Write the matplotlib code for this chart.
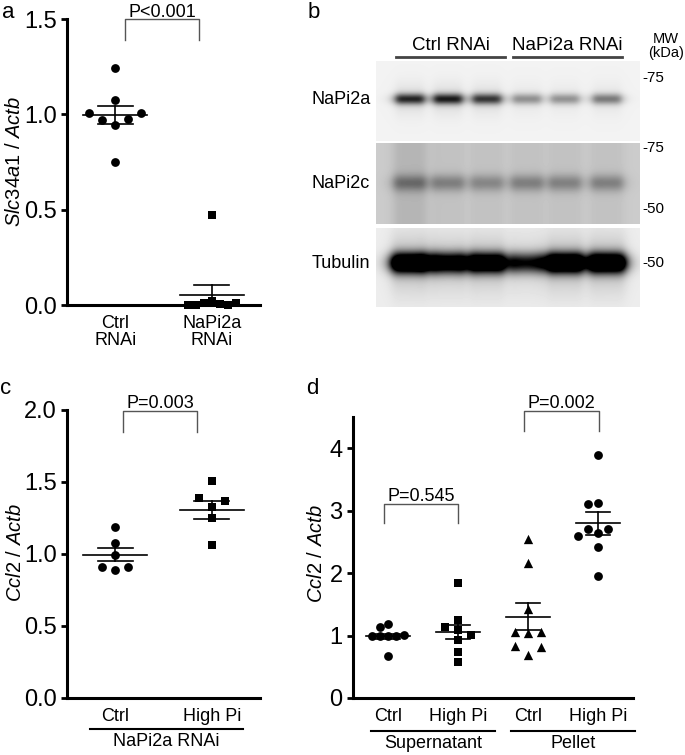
import matplotlib
matplotlib.use("Agg")
import matplotlib.pyplot as plt
import numpy as np

plt.rcParams['font.family'] = ['Liberation Sans', 'DejaVu Sans']
plt.rcParams['mathtext.fontset'] = 'custom'
plt.rcParams['mathtext.it'] = 'Liberation Sans:italic'
plt.rcParams['mathtext.rm'] = 'Liberation Sans'

W, H = 685, 755

# ---- panel a: Slc34a1 / Actb
a_labels = ["Ctrl\nRNAi", "NaPi2a\nRNAi"]
a_ctrl = [1.243, 1.073, 0.945, 0.971, 0.976, 1.006, 1.006, 0.749]
a_kd = [0.472, 0.02, 0.01, 0.005, 0.0, 0.0, 0.0, 0.01]
a_mean = [0.997, 0.052]
a_sem = [0.048, 0.052]

# ---- panel b: western blot (band darkness per lane)
b_groups = ["Ctrl RNAi", "NaPi2a RNAi"]
b_rows = ["NaPi2a", "NaPi2c", "Tubulin"]
b_napi2a = [0.72, 0.76, 0.66, 0.34, 0.33, 0.42]
b_napi2c = [0.30, 0.26, 0.23, 0.26, 0.25, 0.26]
b_tubulin = [1.5, 1.2, 1.35, 0.8, 1.5, 1.5]
b_mw = ["-75", "-75", "-50", "-50"]

# ---- panel c: Ccl2 / Actb, NaPi2a RNAi
c_labels = ["Ctrl", "High Pi"]
c_ctrl = [1.186, 0.89, 1.075, 0.994, 0.913, 0.909]
c_high = [1.51, 1.325, 1.253, 1.064, 1.392, 1.371]
c_mean = [0.994, 1.306]
c_sem = [0.046, 0.064]

# ---- panel d: Ccl2 / Actb, supernatant / pellet
d_labels = ["Ctrl", "High Pi", "Ctrl", "High Pi"]
d_sup_ctrl = [0.99, 1.0, 1.0, 0.99, 1.01, 1.187, 1.134, 0.668]
d_sup_high = [1.845, 1.257, 1.14, 1.086, 1.016, 0.925, 0.733, 0.572]
d_pel_ctrl = [2.54, 2.155, 1.433, 1.037, 1.059, 1.059, 0.695, 0.829, 0.81]
d_pel_high = [3.893, 2.636, 2.70, 2.711, 2.60, 3.128, 3.10, 2.417, 1.947]
d_mean = [0.99, 1.053, 1.30, 2.797]
d_sem = [0.04, 0.11, 0.214, 0.183]


def fa(l, t, r, b):
    return [l / W, 1 - b / H, (r - l) / W, (b - t) / H]


def swarm(vals, ppu, step, mind):
    placed = []
    for v in vals:
        y = v * ppu
        cands = [0]
        for k in range(1, 10):
            cands += [-k * step, k * step]
        for c in cands:
            if all(np.hypot(c - px, y - py) >= mind for px, py in placed):
                break
        placed.append((c, y))
    return np.array([p[0] for p in placed])


def group(ax, x, vals, mean, sem, marker, s, ppx, ppy, step, mind, hw=0.33, cw=0.18):
    off = swarm(vals, ppy, step, mind) / ppx
    ax.scatter(x + off, vals, marker=marker, s=s, color='black', zorder=5,
               clip_on=False, linewidths=0)
    ax.plot([x - hw, x + hw], [mean, mean], color='black', lw=1.2, zorder=6)
    ax.plot([x, x], [mean - sem, mean + sem], color='black', lw=1.2, zorder=6)
    for yy in (mean - sem, mean + sem):
        ax.plot([x - cw, x + cw], [yy, yy], color='black', lw=1.2, zorder=6)


def bracket(ax, x1, x2, top, bot, text, gap=2.2):
    ax.plot([x1, x1, x2, x2], [bot, top, top, bot], color='#555555', lw=1,
            clip_on=False)
    ax.annotate(text, ((x1 + x2) / 2, top), xytext=(0, gap), textcoords='offset points',
                ha='center', va='baseline', fontsize=13, annotation_clip=False)


def style(ax):
    for sp in ['top', 'right']:
        ax.spines[sp].set_visible(False)
    for sp in ['left', 'bottom']:
        ax.spines[sp].set_linewidth(2.2)
    ax.tick_params(axis='y', length=4.5, width=2, labelsize=17, pad=3)
    ax.tick_params(axis='x', length=0, labelsize=13, pad=7)


fig = plt.figure(figsize=(W / 100, H / 100), dpi=100)

# overlay in pixel coordinates for blot and free texts
ov = fig.add_axes([0, 0, 1, 1])
ov.set_xlim(0, W)
ov.set_ylim(H, 0)
ov.axis('off')

# ---- a
ax = fig.add_axes(fa(67, 19, 260, 305))
style(ax)
ax.set_xlim(0.5, 2.5)
ax.set_ylim(0, 1.5)
ax.set_yticks([0, 0.5, 1.0, 1.5])
ax.set_yticklabels(["0.0", "0.5", "1.0", "1.5"])
ax.set_xticks([1, 2])
ax.set_xticklabels(a_labels, linespacing=1.0)
group(ax, 1, a_ctrl, a_mean[0], a_sem[0], 'o', 40, 96.5, 191, 13, 12)
group(ax, 2, a_kd, a_mean[1], a_sem[1], 's', 32, 96.5, 191, 8, 7)
bracket(ax, 1.10, 1.87, 1.5, 1.39, "P<0.001", gap=1.8)
ov.text(15, 161, r"$\mathit{Slc34a1}$ / $\mathit{Actb}$", rotation=90,
        ha='center', va='center', fontsize=14.5)

# ---- c
ax = fig.add_axes(fa(67, 410, 260, 698))
style(ax)
ax.set_xlim(0.5, 2.5)
ax.set_ylim(0, 2.0)
ax.set_yticks([0, 0.5, 1.0, 1.5, 2.0])
ax.set_yticklabels(["0.0", "0.5", "1.0", "1.5", "2.0"])
ax.set_xticks([1, 2])
ax.set_xticklabels(c_labels)
group(ax, 1, c_ctrl, c_mean[0], c_sem[0], 'o', 40, 96.5, 144, 13, 10)
group(ax, 2, c_high, c_mean[1], c_sem[1], 's', 32, 96.5, 144, 13, 10)
bracket(ax, 1.08, 1.85, 1.99, 1.85, "P=0.003")
ov.text(16, 553, r"$\mathit{Ccl2}$ / $\mathit{Actb}$", rotation=90,
        ha='center', va='center', fontsize=14.5)
ov.plot([90, 243], [729, 729], color='black', lw=1.5)
ov.text(166, 741, "NaPi2a RNAi", ha='center', va='center', fontsize=13)

# ---- d
ax = fig.add_axes(fa(353, 417, 633, 698))
style(ax)
ax.set_xlim(0.5, 4.5)
ax.set_ylim(0, 4.5)
ax.set_yticks([0, 1, 2, 3, 4])
ax.set_xticks([1, 2, 3, 4])
ax.set_xticklabels(d_labels)
group(ax, 1, d_sup_ctrl, d_mean[0], d_sem[0], 'o', 40, 70, 62.4, 8, 8, 0.32, 0.17)
group(ax, 2, d_sup_high, d_mean[1], d_sem[1], 's', 32, 70, 62.4, 13, 9, 0.32, 0.17)
group(ax, 3, d_pel_ctrl, d_mean[2], d_sem[2], '^', 45, 70, 62.4, 13, 9, 0.32, 0.17)
group(ax, 4, d_pel_high, d_mean[3], d_sem[3], 'o', 40, 70, 62.4, 10, 8, 0.32, 0.17)
bracket(ax, 0.94, 2.0, 3.11, 2.81, "P=0.545")
bracket(ax, 2.94, 4.01, 4.6, 4.28, "P=0.002")
ov.text(317, 554, r"$\mathit{Ccl2}$ / $\mathit{Actb}$", rotation=90,
        ha='center', va='center', fontsize=14.5)
ov.plot([371, 495], [731, 731], color='black', lw=1.5)
ov.plot([511, 635], [731, 731], color='black', lw=1.5)
ov.text(433, 744, "Supernatant", ha='center', va='center', fontsize=13)
ov.text(573, 744, "Pellet", ha='center', va='center', fontsize=13)

# ---- b: blot image
lanes = np.array([410, 448, 487, 527, 565, 607])
xs = np.arange(376, 640) + 0.5
ys = np.arange(61, 307) + 0.5
X, Y = np.meshgrid(xs, ys)
img = np.ones_like(X)
panels = [(61, 141, 0.95, 99, 3.8, 15, b_napi2a),
          (143, 224, 0.80, 183, 6.0, 17, b_napi2c),
          (228, 307, 0.93, 263, 7.0, 19, b_tubulin)]
for top, bot, bg, yc, sy, hw, dark in panels:
    m = (Y >= top) & (Y < bot)
    val = np.full_like(X, bg)
    for i, (lx, d) in enumerate(zip(lanes, dark)):
        hprof = 1 / (1 + ((X - lx) / hw) ** 6)
        val -= d * np.exp(-0.5 * ((Y - yc) / sy) ** 2) * hprof
        if bg < 0.9:
            # lane smear on the NaPi2c membrane, first lane darker
            val -= (0.09 if i == 0 else 0.04) * hprof
        else:
            val -= 0.12 * d * np.exp(-0.5 * ((Y - yc) / (3 * sy)) ** 2) * hprof
    img[m] = np.clip(val[m], 0, 1)
ov.imshow(img, extent=(376, 640, 307, 61), cmap='gray', vmin=0, vmax=1,
          interpolation='bilinear', aspect='auto', zorder=1)
ov.set_xlim(0, W)
ov.set_ylim(H, 0)

for name, yy in zip(b_rows, [99, 183, 263]):
    ov.text(312, yy, name, ha='left', va='center', fontsize=13)
for name, (x1, x2) in zip(b_groups, [(396, 505), (513, 622)]):
    ov.text((x1 + x2) / 2, 45, name, ha='center', va='center', fontsize=13.5)
    ov.plot([x1, x2], [57, 57], color='#444444', lw=2)
for lab, yy in zip(b_mw, [78, 148, 209, 263]):
    ov.text(642, yy, lab, ha='left', va='center', fontsize=11)
ov.text(666, 46, "MW\n(kDa)", ha='center', va='center', fontsize=10.5,
        linespacing=0.95)

# panel letters
ov.text(2, 12, "a", ha='left', va='center', fontsize=16)
ov.text(308, 12, "b", ha='left', va='center', fontsize=16)
ov.text(0, 389, "c", ha='left', va='center', fontsize=16)
ov.text(306, 388, "d", ha='left', va='center', fontsize=16)

fig.savefig("out.png", dpi=100)
